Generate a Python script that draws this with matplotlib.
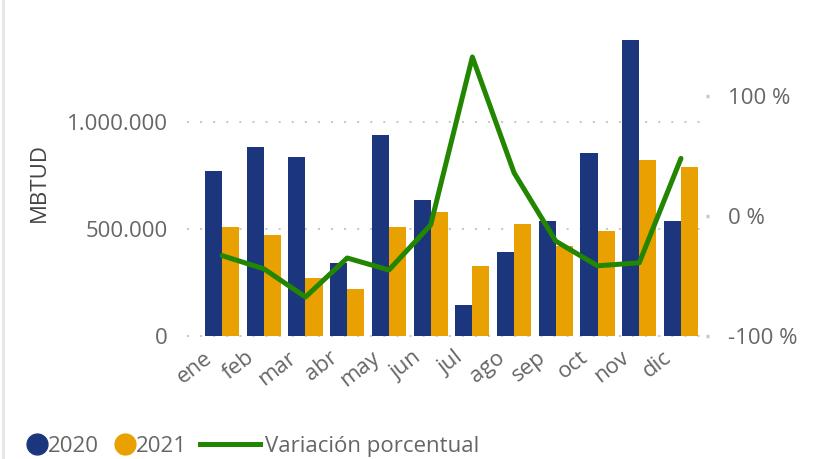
# -*- coding: utf-8 -*-
"""
Consumo mensual 2020 vs 2021 con variación porcentual.
"""

# %% Imports
import numpy as np
import matplotlib.pyplot as plt
from matplotlib.lines import Line2D
from matplotlib.ticker import FuncFormatter
from matplotlib.transforms import ScaledTranslation

# %% Data
months = ["ene", "feb", "mar", "abr", "may", "jun",
          "jul", "ago", "sep", "oct", "nov", "dic"]
values_2020 = [771000, 883000, 836000, 341000, 939000, 636000,
               145000, 393000, 537000, 855000, 1383000, 537000]
values_2021 = [509000, 472000, 271000, 220000, 509000, 579000,
               327000, 523000, 421000, 491000, 822000, 790000]
variation_pct = [-33, -44, -67.5, -35, -45, -7.5,
                 132.5, 36, -21, -41.5, -39, 48]
left_ticks = [0, 500000, 1000000]
right_ticks = [-100, 0, 100]
legend_labels = ["2020", "2021", "Variación porcentual"]

# %% Style
BLUE = "#1B367D"
ORANGE = "#E8A100"
GREEN = "#228600"
GRID = "#C8C8C8"
TEXT = "#666666"
FS = 16

plt.rcParams['font.family'] = ['Open Sans', 'DejaVu Sans']

W, H = 819, 459
fig = plt.figure(figsize=(W / 100, H / 100), dpi=100)
ax = fig.add_axes([187 / W, 1 - 336 / H, (706 - 187) / W, (336 - 30) / H])
ax2 = ax.twinx()

x = np.arange(len(months))
w = 0.41

ax.bar(x - w / 2, values_2020, width=w, color=BLUE, zorder=2)
ax.bar(x + w / 2, values_2021, width=w, color=ORANGE, zorder=2)
ax2.plot(x, variation_pct, color=GREEN, linewidth=3.6,
         solid_capstyle='round', solid_joinstyle='round', zorder=3)

ax.set_xlim(-0.84, 11.6)
ax.set_ylim(0, 1430000)
ax2.set_ylim(-100, 155)

# gridlines (dotted)
for v in left_ticks:
    ax.axhline(v, color=GRID, linewidth=1.45, linestyle=(0, (1, 5.5)),
               zorder=1, clip_on=False)

ax.set_yticks(left_ticks)
ax.yaxis.set_major_formatter(FuncFormatter(
    lambda v, p: "0" if v == 0 else f"{int(v):,}".replace(",", ".")))
ax2.set_yticks(right_ticks)
ax2.yaxis.set_major_formatter(FuncFormatter(lambda v, p: f"{int(v)} %"))

ax.tick_params(axis='y', length=0, labelsize=FS, labelcolor=TEXT, pad=14)
ax.tick_params(axis='x', length=0, labelsize=FS, labelcolor=TEXT, pad=14)
ax2.tick_params(axis='y', length=2, width=2.5, color=GRID, labelsize=FS,
                labelcolor=TEXT, pad=14)

# month labels: rotated, ending a bit left of the group centre
ax.set_xticks(x)
ax.set_xticklabels(months, rotation=38, ha='right', va='center',
                   rotation_mode='anchor')
shift = ScaledTranslation(-0.12, 0, fig.dpi_scale_trans)
for lbl in ax.get_xticklabels():
    lbl.set_transform(lbl.get_transform() + shift)

for a in (ax, ax2):
    for s in a.spines.values():
        s.set_visible(False)

ax.set_ylabel("MBTUD", fontsize=FS, color="#444444", labelpad=12)

# %% Legend (drawn by hand, pixel positions)
ly = 1 - 444 / H
fig.add_artist(Line2D([37 / W], [ly], marker='o', markersize=15,
                      color=BLUE, linestyle=''))
fig.add_artist(Line2D([125 / W], [ly], marker='o', markersize=15,
                      color=ORANGE, linestyle=''))
fig.add_artist(Line2D([200 / W, 260 / W], [ly, ly], color=GREEN,
                      linewidth=3.6))
for lx, txt in zip([48, 136, 265], legend_labels):
    fig.text(lx / W, ly, txt, fontsize=FS, color=TEXT, va='center_baseline')

# left border of the visual
fig.add_artist(Line2D([0.004, 0.004], [0, 1], color="#E6E6E6", linewidth=2))

fig.savefig("out.png", dpi=100)
